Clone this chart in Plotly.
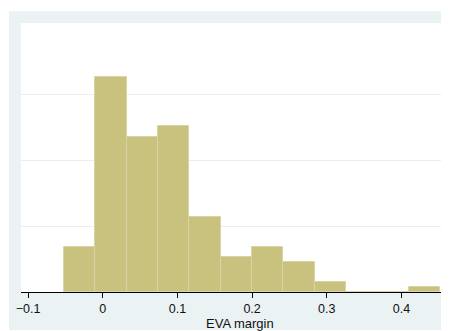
import plotly.graph_objects as go

# Histogram data (density), bins of equal width
bin_start = -0.0518
bin_width = 0.04197
density = [1.37, 6.56, 4.73, 5.04, 2.29, 1.07, 1.37, 0.92, 0.31, 0.0, 0.0, 0.15]
x_tick_vals = [-0.1, 0, 0.1, 0.2, 0.3, 0.4]
x_tick_text = ["\u22120.1", "0", "0.1", "0.2", "0.3", "0.4"]
y_grid_vals = [2, 4, 6]
x_title = "EVA margin"

centers = [bin_start + bin_width * (i + 0.5) for i in range(len(density))]

# page body has an 8px margin; figure placed at (8, 8) in the window
OFF = 8
W, H = 449 - OFF, 331 - OFF
ml, mr, mt, mb = 21 - OFF, 1, 23 - OFF, 331 - 292
pw, ph = W - ml - mr, H - mt - mb

fig = go.Figure()
fig.add_trace(go.Bar(
    x=centers, y=density, width=[bin_width] * len(density),
    marker=dict(color="#C9C27F", line=dict(color="#D9D4A6", width=1)),
    hoverinfo="skip",
))

def px_x(p):  # window pixel -> paper x
    return (p - OFF - ml) / pw

def px_y(p):  # window pixel -> paper y
    return (H - mb - (p - OFF)) / ph

font = dict(family="Arial, Liberation Sans, sans-serif", size=13, color="#111111")
tick_font = dict(family="Arial, Liberation Sans, sans-serif", size=12.5, color="#111111")

fig.update_layout(
    width=W, height=H,
    margin=dict(l=ml, r=mr, t=mt, b=mb, pad=0),
    paper_bgcolor="#EAF2F3",
    plot_bgcolor="#FFFFFF",
    showlegend=False,
    bargap=0,
    font=font,
    xaxis=dict(
        range=[-0.1094, 0.4623],
        tickvals=x_tick_vals, ticktext=x_tick_text,
        ticks="outside", ticklen=5, tickwidth=1, tickcolor="#000000",
        showline=True, linecolor="#000000", linewidth=1,
        showgrid=False, zeroline=False,
        tickfont=tick_font,
    ),
    yaxis=dict(
        range=[0, 8.19],
        tickvals=y_grid_vals, showticklabels=False,
        showgrid=True, gridcolor="#E8EFF0", gridwidth=1,
        zeroline=False, showline=False, ticks="",
    ),
    shapes=[
        dict(type="rect", xref="paper", yref="paper",
             x0=px_x(0), x1=px_x(460), y0=px_y(0), y1=px_y(11),
             fillcolor="#FFFFFF", line=dict(width=0), layer="below"),
        dict(type="rect", xref="paper", yref="paper",
             x0=px_x(0), x1=px_x(9), y0=px_y(0), y1=px_y(340),
             fillcolor="#FFFFFF", line=dict(width=0), layer="below"),
        dict(type="rect", xref="paper", yref="paper",
             x0=px_x(0), x1=px_x(460), y0=px_y(330), y1=px_y(340),
             fillcolor="#FFFFFF", line=dict(width=0), layer="below"),
    ],
    annotations=[
        dict(text=x_title, xref="paper", yref="paper",
             x=px_x(239.5), y=px_y(314), xanchor="center", yanchor="top",
             showarrow=False, font=font),
    ],
)

fig.write_html("out.html")
